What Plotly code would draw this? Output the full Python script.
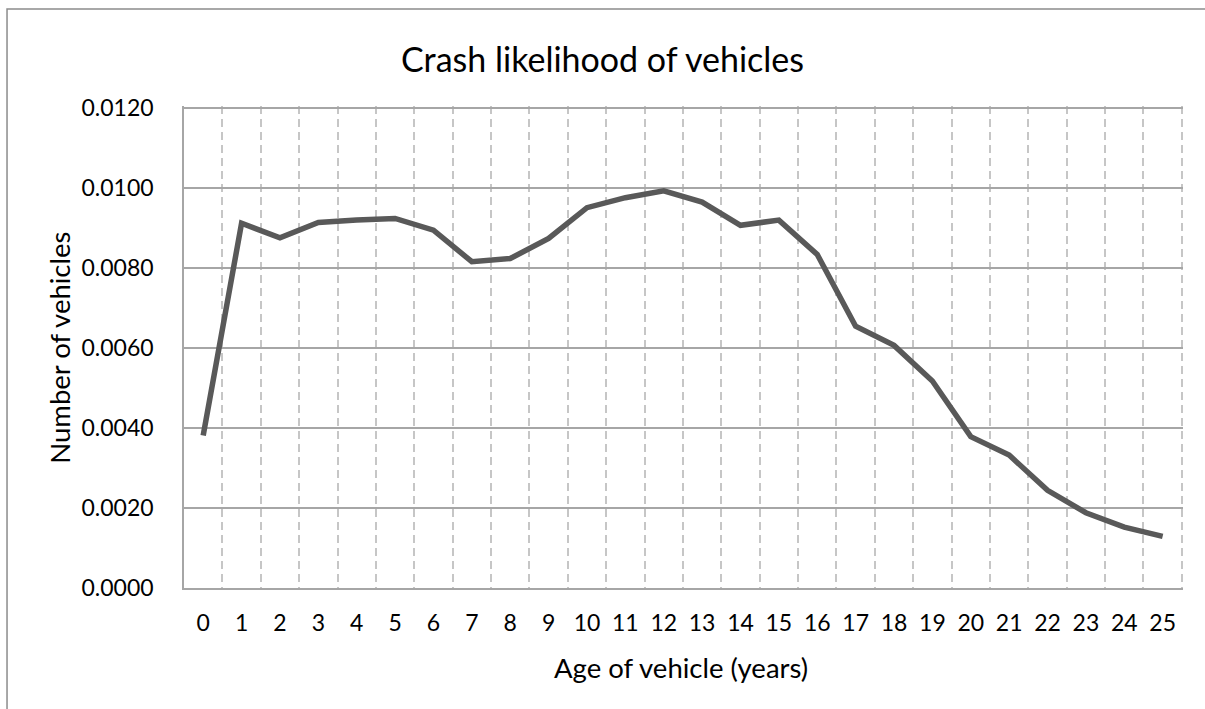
import plotly.graph_objects as go

ages = list(range(26))
age_labels = [str(a) for a in ages]
crash_likelihood = [0.00381, 0.00911, 0.00875, 0.00913, 0.00919, 0.00923, 0.00894, 0.00815,
                    0.00823, 0.00873, 0.00950, 0.00975, 0.00992, 0.00964, 0.00906, 0.00919,
                    0.00833, 0.00654, 0.00606, 0.00517, 0.00378, 0.00332, 0.00244, 0.00188,
                    0.00152, 0.00129]
y_ticks = [0.0, 0.002, 0.004, 0.006, 0.008, 0.010, 0.012]

FONT = "Lato"
W, H = 1205, 709
X_MAX, Y_MAX = 25.53, 0.01204
L, B = 184, 588
R = 1182 + (X_MAX - 25.5) * (998 / 26)
T = 108 - (Y_MAX - 0.012) * (480 / 0.012)
pw, ph = R - L, B - T

fig = go.Figure()
fig.add_trace(go.Scatter(
    x=ages, y=crash_likelihood, mode="lines",
    line=dict(color="#595959", width=5.5),
    showlegend=False, hoverinfo="skip"))

fig.update_layout(
    width=W, height=H,
    margin=dict(l=L, r=W - R, t=T, b=H - B, autoexpand=False),
    paper_bgcolor="white", plot_bgcolor="white",
    font=dict(family=FONT, color="#000000"),
    title=dict(text="Crash likelihood of vehicles", x=0.5, xref="container", xanchor="center",
               y=1 - 60 / H, yref="container", yanchor="middle",
               font=dict(family=FONT, size=34, color="#000000")),
    xaxis=dict(
        range=[-0.5, X_MAX], tickmode="array", tickvals=ages, ticktext=age_labels,
        showgrid=False, zeroline=False,
        showline=True, linecolor="#a6a6a6", linewidth=1.5,
        ticks="", ticklabelstandoff=14,
        tickfont=dict(family=FONT, size=23, color="#000000"),
        minor=dict(tickvals=[a + 0.5 for a in ages], showgrid=True,
                   gridcolor="#c6c6c6", gridwidth=1.5, griddash="8px,5px", ticks=""),
    ),
    yaxis=dict(
        range=[0, Y_MAX], tickmode="array", tickvals=y_ticks, tickformat=".4f",
        showgrid=True, gridcolor="#a6a6a6", gridwidth=1.5, zeroline=False,
        showline=True, linecolor="#a6a6a6", linewidth=1.5,
        ticks="", ticklabelstandoff=24,
        tickfont=dict(family=FONT, size=23, color="#000000"),
    ),
    annotations=[
        dict(text="Age of vehicle (years)", xref="paper", yref="paper",
             x=(681 - L) / pw, y=(B - 667) / ph, xanchor="center", yanchor="middle",
             showarrow=False, font=dict(family=FONT, size=27.5, color="#000000")),
        dict(text="Number of vehicles", xref="paper", yref="paper",
             x=(60 - L) / pw, y=(B - 348) / ph, xanchor="center", yanchor="middle", textangle=-90,
             showarrow=False, font=dict(family=FONT, size=27.5, color="#000000")),
    ],
    shapes=[
        dict(type="rect", xref="paper", yref="paper", layer="below",
             x0=(7 - L) / pw, x1=(1260 - L) / pw, y0=(B - 760) / ph, y1=(B - 9.5) / ph,
             line=dict(color="#8c8c8c", width=1.5), fillcolor="rgba(0,0,0,0)"),
    ],
)

fig.write_html("out.html", config={"displayModeBar": False},
               post_script="document.body.style.margin='0';")
